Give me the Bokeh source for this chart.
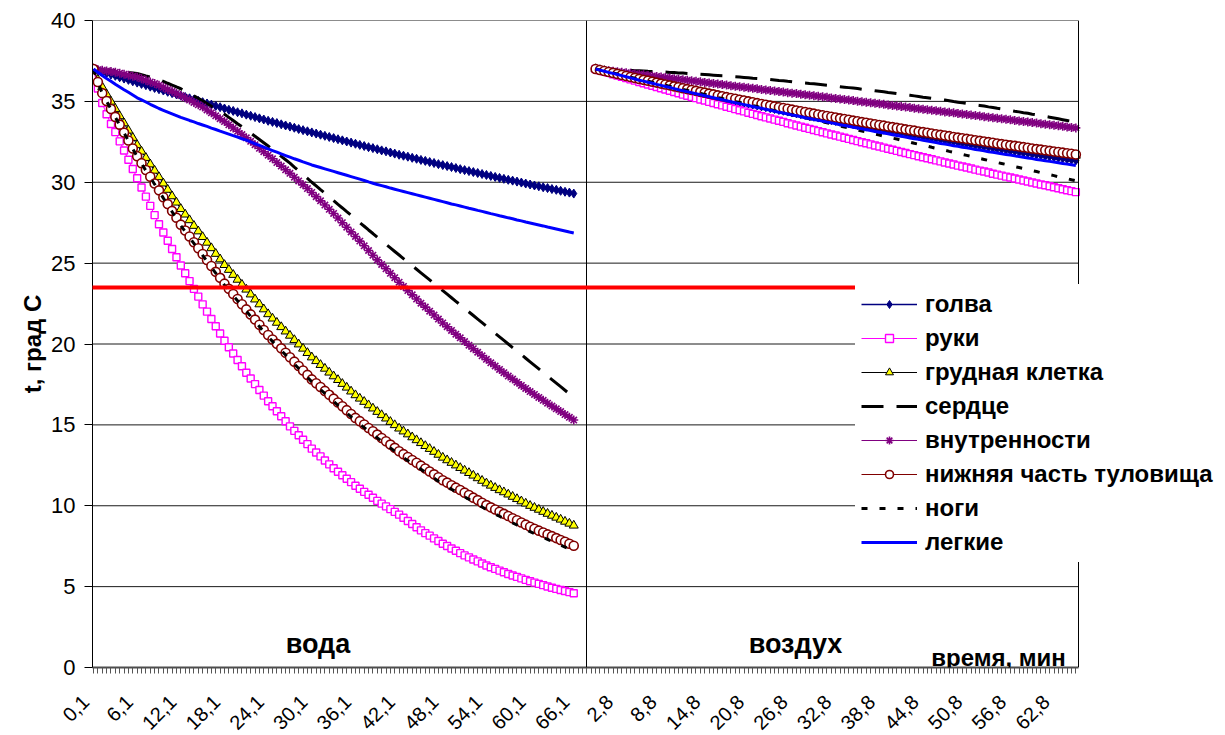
import math
from bokeh.plotting import figure
from bokeh.layouts import column
from bokeh.models import (Range1d, FixedTicker, Span, Label, Legend, LegendItem,
                          Arrow, ColumnDataSource)
from bokeh.core.properties import value
from bokeh.embed import file_html
from bokeh.resources import INLINE

FONT = "Liberation Sans"

# ---- categories (time, min) ----
WATER_TICK_LABELS = ["0,1", "6,1", "12,1", "18,1", "24,1", "30,1", "36,1",
                     "42,1", "48,1", "54,1", "60,1", "66,1"]
AIR_TICK_LABELS = ["2,8", "8,8", "14,8", "20,8", "26,8", "32,8", "38,8",
                   "44,8", "50,8", "56,8", "62,8"]
N_POINTS = 111          # categories per panel
AIR_START = 115         # category slot where the air panel starts
LABEL_EVERY = 10
SEPARATOR = 112.92
X_LEFT, X_RIGHT = -0.229, 225.61      # plot-area extent in category units
Y_TICKS = [0, 5, 10, 15, 20, 25, 30, 35, 40]

SERIES_NAMES = ["голва", "руки", "грудная клетка", "сердце", "внутренности",
                "нижняя часть туловища", "ноги", "легкие"]

# ---- water (вода) ----
head_water = [37.00, 36.92, 36.83, 36.75, 36.66, 36.58, 36.49, 36.41, 36.33, 36.24, 36.16,
              36.08, 36.00, 35.91, 35.83, 35.75, 35.67, 35.59, 35.51, 35.43, 35.35,
              35.27, 35.19, 35.11, 35.03, 34.95, 34.87, 34.80, 34.72, 34.64, 34.56,
              34.48, 34.41, 34.33, 34.26, 34.18, 34.11, 34.03, 33.95, 33.88, 33.80,
              33.73, 33.66, 33.58, 33.51, 33.44, 33.37, 33.29, 33.22, 33.15, 33.08,
              33.01, 32.94, 32.87, 32.80, 32.73, 32.66, 32.59, 32.52, 32.45, 32.38,
              32.31, 32.24, 32.17, 32.11, 32.04, 31.97, 31.91, 31.84, 31.77, 31.70,
              31.64, 31.58, 31.51, 31.45, 31.38, 31.32, 31.25, 31.19, 31.12, 31.06,
              31.00, 30.94, 30.88, 30.81, 30.75, 30.69, 30.63, 30.57, 30.51, 30.45,
              30.39, 30.33, 30.27, 30.21, 30.15, 30.10, 30.04, 29.98, 29.92, 29.86,
              29.80, 29.75, 29.69, 29.64, 29.58, 29.53, 29.47, 29.41, 29.36, 29.30]
hands_water = [37.00, 35.80, 34.90, 34.20, 33.60, 33.10, 32.53, 31.96, 31.39, 30.82, 30.25,
               29.68, 29.11, 28.54, 27.97, 27.40, 26.89, 26.38, 25.87, 25.36, 24.85,
               24.37, 23.89, 23.41, 22.93, 22.45, 22.00, 21.55, 21.10, 20.65, 20.20,
               19.80, 19.41, 19.01, 18.62, 18.22, 17.87, 17.52, 17.16, 16.81, 16.46,
               16.15, 15.84, 15.53, 15.22, 14.91, 14.63, 14.36, 14.08, 13.81, 13.53,
               13.29, 13.05, 12.80, 12.56, 12.32, 12.10, 11.89, 11.67, 11.46, 11.24,
               11.05, 10.86, 10.68, 10.49, 10.30, 10.13, 9.96, 9.79, 9.62, 9.45,
               9.26, 9.06, 8.87, 8.67, 8.48, 8.31, 8.15, 7.98, 7.82, 7.65,
               7.51, 7.36, 7.22, 7.07, 6.93, 6.81, 6.68, 6.56, 6.43, 6.31,
               6.20, 6.10, 5.99, 5.89, 5.78, 5.69, 5.60, 5.51, 5.42, 5.33,
               5.25, 5.17, 5.09, 5.01, 4.93, 4.86, 4.79, 4.73, 4.66, 4.59]
chest_water = [37.00, 36.34, 35.89, 35.44, 34.99, 34.54, 34.09, 33.65, 33.20, 32.75, 32.30,
               31.90, 31.51, 31.11, 30.72, 30.32, 29.93, 29.54, 29.14, 28.75, 28.35,
               28.01, 27.66, 27.31, 26.97, 26.62, 26.27, 25.93, 25.58, 25.24, 24.89,
               24.59, 24.28, 23.98, 23.67, 23.37, 23.07, 22.76, 22.46, 22.15, 21.85,
               21.58, 21.32, 21.05, 20.78, 20.52, 20.25, 19.98, 19.72, 19.45, 19.18,
               18.95, 18.71, 18.48, 18.24, 18.01, 17.78, 17.54, 17.31, 17.07, 16.84,
               16.63, 16.43, 16.22, 16.02, 15.81, 15.61, 15.40, 15.19, 14.99, 14.78,
               14.60, 14.42, 14.24, 14.06, 13.88, 13.70, 13.52, 13.34, 13.16, 12.98,
               12.82, 12.66, 12.50, 12.34, 12.18, 12.03, 11.87, 11.71, 11.55, 11.39,
               11.25, 11.11, 10.97, 10.84, 10.70, 10.56, 10.42, 10.28, 10.14, 10.00,
               9.88, 9.76, 9.63, 9.51, 9.39, 9.27, 9.15, 9.02, 8.90, 8.78]
heart_water = [37.00, 36.98, 36.96, 36.94, 36.92, 36.90, 36.86, 36.83, 36.79, 36.76, 36.72,
               36.65, 36.57, 36.50, 36.42, 36.35, 36.24, 36.12, 36.01, 35.89, 35.78,
               35.63, 35.48, 35.34, 35.19, 35.04, 34.87, 34.70, 34.54, 34.37, 34.20,
               34.01, 33.82, 33.62, 33.43, 33.24, 33.04, 32.84, 32.64, 32.44, 32.24,
               32.03, 31.82, 31.60, 31.39, 31.18, 30.94, 30.71, 30.47, 30.24, 30.00,
               29.77, 29.54, 29.32, 29.09, 28.86, 28.63, 28.41, 28.18, 27.96, 27.73,
               27.50, 27.28, 27.05, 26.83, 26.60, 26.38, 26.16, 25.94, 25.72, 25.50,
               25.28, 25.06, 24.84, 24.62, 24.40, 24.18, 23.96, 23.74, 23.52, 23.30,
               23.08, 22.86, 22.64, 22.42, 22.20, 21.98, 21.76, 21.54, 21.32, 21.10,
               20.88, 20.66, 20.44, 20.22, 20.00, 19.78, 19.56, 19.34, 19.12, 18.90,
               18.68, 18.46, 18.24, 18.02, 17.80, 17.58, 17.36, 17.14, 16.92, 16.70]
viscera_water = [37.00, 36.96, 36.92, 36.88, 36.84, 36.80, 36.74, 36.68, 36.62, 36.56, 36.50,
                 36.40, 36.30, 36.20, 36.10, 36.00, 35.87, 35.74, 35.62, 35.49, 35.36,
                 35.22, 35.08, 34.93, 34.79, 34.65, 34.47, 34.29, 34.11, 33.93, 33.75,
                 33.55, 33.35, 33.15, 32.95, 32.75, 32.53, 32.32, 32.10, 31.89, 31.67,
                 31.45, 31.22, 31.00, 30.77, 30.55, 30.31, 30.08, 29.84, 29.61, 29.37,
                 29.11, 28.85, 28.59, 28.33, 28.07, 27.79, 27.50, 27.22, 26.93, 26.65,
                 26.36, 26.07, 25.78, 25.49, 25.20, 24.92, 24.65, 24.37, 24.10, 23.82,
                 23.56, 23.30, 23.04, 22.78, 22.52, 22.28, 22.03, 21.79, 21.54, 21.30,
                 21.07, 20.84, 20.61, 20.38, 20.15, 19.93, 19.71, 19.49, 19.27, 19.05,
                 18.84, 18.64, 18.43, 18.23, 18.02, 17.83, 17.64, 17.44, 17.25, 17.06,
                 16.88, 16.70, 16.52, 16.34, 16.16, 15.99, 15.82, 15.64, 15.47, 15.30]
torso_water = [37.00, 36.20, 35.51, 35.02, 34.53, 34.04, 33.56, 33.07, 32.58, 32.09, 31.61,
               31.18, 30.76, 30.34, 29.92, 29.50, 29.07, 28.65, 28.23, 27.81, 27.38,
               27.02, 26.65, 26.29, 25.92, 25.56, 25.19, 24.82, 24.46, 24.09, 23.73,
               23.41, 23.09, 22.78, 22.46, 22.14, 21.83, 21.51, 21.19, 20.87, 20.56,
               20.28, 20.01, 19.73, 19.46, 19.18, 18.91, 18.64, 18.36, 18.09, 17.81,
               17.57, 17.34, 17.10, 16.86, 16.62, 16.38, 16.15, 15.91, 15.67, 15.43,
               15.23, 15.02, 14.81, 14.61, 14.40, 14.19, 13.99, 13.78, 13.58, 13.37,
               13.19, 13.01, 12.83, 12.66, 12.48, 12.30, 12.12, 11.94, 11.76, 11.58,
               11.43, 11.27, 11.12, 10.97, 10.81, 10.66, 10.50, 10.35, 10.19, 10.04,
               9.90, 9.77, 9.63, 9.50, 9.37, 9.23, 9.10, 8.96, 8.83, 8.70,
               8.58, 8.46, 8.35, 8.23, 8.12, 8.00, 7.88, 7.77, 7.65, 7.53]
legs_water = [37.00, 36.20, 35.50, 35.01, 34.52, 34.02, 33.54, 33.05, 32.56, 32.06, 31.58,
              31.15, 30.72, 30.30, 29.88, 29.45, 29.02, 28.60, 28.18, 27.75, 27.32,
              26.96, 26.58, 26.22, 25.85, 25.48, 25.11, 24.74, 24.38, 24.00, 23.64,
              23.32, 22.99, 22.67, 22.36, 22.04, 21.71, 21.40, 21.08, 20.75, 20.44,
              20.16, 19.88, 19.60, 19.33, 19.05, 18.77, 18.49, 18.22, 17.94, 17.66,
              17.42, 17.18, 16.94, 16.70, 16.46, 16.21, 15.98, 15.74, 15.49, 15.25,
              15.04, 14.83, 14.62, 14.42, 14.20, 13.99, 13.79, 13.58, 13.37, 13.16,
              12.98, 12.79, 12.61, 12.44, 12.26, 12.07, 11.89, 11.71, 11.52, 11.34,
              11.19, 11.02, 10.87, 10.71, 10.55, 10.40, 10.24, 10.09, 9.92, 9.77,
              9.63, 9.49, 9.35, 9.22, 9.08, 8.94, 8.81, 8.67, 8.53, 8.40,
              8.28, 8.16, 8.04, 7.92, 7.80, 7.68, 7.56, 7.44, 7.32, 7.20]
lungs_water = [37.00, 36.80, 36.60, 36.42, 36.25, 36.06, 35.89, 35.72, 35.56, 35.39, 35.22,
               35.09, 34.96, 34.82, 34.69, 34.56, 34.45, 34.34, 34.23, 34.12, 34.01,
               33.92, 33.82, 33.73, 33.63, 33.54, 33.45, 33.35, 33.26, 33.16, 33.07,
               32.98, 32.88, 32.79, 32.69, 32.60, 32.49, 32.38, 32.28, 32.17, 32.06,
               31.96, 31.86, 31.75, 31.65, 31.55, 31.45, 31.36, 31.26, 31.17, 31.07,
               30.99, 30.91, 30.83, 30.75, 30.67, 30.59, 30.51, 30.43, 30.35, 30.27,
               30.19, 30.11, 30.02, 29.94, 29.86, 29.79, 29.72, 29.64, 29.57, 29.50,
               29.43, 29.36, 29.29, 29.22, 29.15, 29.08, 29.01, 28.94, 28.87, 28.80,
               28.73, 28.66, 28.60, 28.53, 28.46, 28.39, 28.33, 28.26, 28.20, 28.13,
               28.06, 28.00, 27.93, 27.87, 27.80, 27.74, 27.67, 27.61, 27.54, 27.48,
               27.42, 27.36, 27.30, 27.23, 27.17, 27.11, 27.05, 26.99, 26.92, 26.86]

# ---- air (воздух) ----
head_air = [37.00, 36.93, 36.87, 36.80, 36.74, 36.67, 36.61, 36.54, 36.48, 36.41, 36.35,
            36.29, 36.23, 36.16, 36.10, 36.04, 35.98, 35.92, 35.85, 35.79, 35.73,
            35.67, 35.61, 35.55, 35.49, 35.44, 35.38, 35.32, 35.26, 35.20, 35.14,
            35.08, 35.03, 34.97, 34.92, 34.86, 34.80, 34.75, 34.69, 34.64, 34.58,
            34.53, 34.47, 34.42, 34.37, 34.31, 34.26, 34.21, 34.15, 34.10, 34.05,
            34.00, 33.95, 33.90, 33.84, 33.79, 33.74, 33.69, 33.64, 33.59, 33.54,
            33.49, 33.44, 33.40, 33.35, 33.30, 33.25, 33.20, 33.15, 33.11, 33.06,
            33.01, 32.97, 32.92, 32.87, 32.83, 32.78, 32.74, 32.69, 32.65, 32.60,
            32.56, 32.51, 32.47, 32.42, 32.38, 32.34, 32.29, 32.25, 32.21, 32.16,
            32.12, 32.08, 32.04, 32.00, 31.95, 31.91, 31.87, 31.83, 31.79, 31.75,
            31.71, 31.67, 31.63, 31.59, 31.55, 31.51, 31.47, 31.43, 31.39, 31.35]
hands_air = [37.00, 36.92, 36.84, 36.76, 36.68, 36.60, 36.52, 36.44, 36.36, 36.28, 36.20,
             36.12, 36.04, 35.97, 35.89, 35.81, 35.73, 35.66, 35.58, 35.50, 35.42,
             35.35, 35.27, 35.20, 35.12, 35.05, 34.97, 34.90, 34.82, 34.75, 34.67,
             34.60, 34.52, 34.45, 34.38, 34.30, 34.23, 34.16, 34.08, 34.01, 33.94,
             33.87, 33.80, 33.73, 33.65, 33.58, 33.51, 33.44, 33.37, 33.30, 33.23,
             33.16, 33.09, 33.02, 32.95, 32.89, 32.82, 32.75, 32.68, 32.61, 32.54,
             32.47, 32.41, 32.34, 32.27, 32.21, 32.14, 32.07, 32.01, 31.94, 31.87,
             31.81, 31.74, 31.68, 31.61, 31.55, 31.48, 31.42, 31.35, 31.29, 31.22,
             31.16, 31.10, 31.03, 30.97, 30.91, 30.85, 30.78, 30.72, 30.66, 30.60,
             30.53, 30.47, 30.41, 30.35, 30.29, 30.23, 30.17, 30.11, 30.05, 29.98,
             29.92, 29.86, 29.81, 29.75, 29.69, 29.63, 29.57, 29.51, 29.45, 29.39]
chest_air = [37.00, 36.94, 36.88, 36.81, 36.75, 36.69, 36.63, 36.57, 36.51, 36.44, 36.38,
             36.32, 36.27, 36.21, 36.15, 36.09, 36.03, 35.97, 35.91, 35.85, 35.80,
             35.74, 35.68, 35.63, 35.57, 35.52, 35.46, 35.41, 35.35, 35.29, 35.24,
             35.18, 35.13, 35.08, 35.03, 34.97, 34.92, 34.87, 34.81, 34.76, 34.71,
             34.66, 34.61, 34.56, 34.51, 34.45, 34.40, 34.35, 34.30, 34.25, 34.20,
             34.15, 34.11, 34.06, 34.01, 33.96, 33.91, 33.87, 33.82, 33.77, 33.72,
             33.68, 33.63, 33.58, 33.54, 33.49, 33.45, 33.40, 33.36, 33.31, 33.26,
             33.22, 33.18, 33.13, 33.09, 33.05, 33.00, 32.96, 32.92, 32.87, 32.83,
             32.79, 32.75, 32.71, 32.66, 32.62, 32.58, 32.54, 32.50, 32.46, 32.42,
             32.38, 32.34, 32.30, 32.26, 32.22, 32.18, 32.14, 32.10, 32.06, 32.02,
             31.99, 31.95, 31.91, 31.87, 31.84, 31.80, 31.76, 31.72, 31.69, 31.65]
heart_air = [37.00, 36.99, 36.98, 36.97, 36.96, 36.95, 36.94, 36.93, 36.92, 36.90, 36.89,
             36.88, 36.86, 36.85, 36.84, 36.82, 36.81, 36.79, 36.78, 36.76, 36.75,
             36.73, 36.71, 36.69, 36.68, 36.66, 36.64, 36.62, 36.60, 36.58, 36.57,
             36.54, 36.52, 36.50, 36.48, 36.46, 36.43, 36.41, 36.39, 36.37, 36.35,
             36.32, 36.29, 36.27, 36.24, 36.22, 36.19, 36.16, 36.14, 36.11, 36.09,
             36.06, 36.03, 36.00, 35.97, 35.94, 35.91, 35.88, 35.85, 35.82, 35.79,
             35.75, 35.72, 35.69, 35.65, 35.62, 35.59, 35.55, 35.52, 35.48, 35.45,
             35.41, 35.38, 35.34, 35.30, 35.26, 35.23, 35.19, 35.15, 35.11, 35.08,
             35.04, 34.99, 34.95, 34.91, 34.87, 34.83, 34.79, 34.75, 34.71, 34.66,
             34.62, 34.57, 34.53, 34.48, 34.44, 34.39, 34.35, 34.30, 34.26, 34.21,
             34.17, 34.12, 34.07, 34.02, 33.97, 33.92, 33.87, 33.82, 33.77, 33.72]
viscera_air = [37.00, 36.97, 36.93, 36.90, 36.87, 36.83, 36.80, 36.77, 36.74, 36.70, 36.67,
               36.64, 36.60, 36.57, 36.54, 36.50, 36.47, 36.44, 36.40, 36.37, 36.34,
               36.30, 36.27, 36.24, 36.21, 36.17, 36.14, 36.11, 36.07, 36.04, 36.01,
               35.97, 35.94, 35.91, 35.87, 35.84, 35.81, 35.78, 35.74, 35.71, 35.68,
               35.64, 35.61, 35.58, 35.54, 35.51, 35.48, 35.44, 35.41, 35.38, 35.35,
               35.31, 35.28, 35.25, 35.21, 35.18, 35.15, 35.11, 35.08, 35.05, 35.01,
               34.98, 34.95, 34.91, 34.88, 34.85, 34.82, 34.78, 34.75, 34.72, 34.68,
               34.65, 34.62, 34.58, 34.55, 34.52, 34.48, 34.45, 34.42, 34.39, 34.35,
               34.32, 34.29, 34.25, 34.22, 34.19, 34.15, 34.12, 34.09, 34.05, 34.02,
               33.99, 33.95, 33.92, 33.89, 33.86, 33.82, 33.79, 33.76, 33.72, 33.69,
               33.66, 33.62, 33.59, 33.56, 33.52, 33.49, 33.46, 33.42, 33.39, 33.36]
torso_air = [37.00, 36.94, 36.88, 36.82, 36.76, 36.70, 36.63, 36.57, 36.51, 36.45, 36.39,
             36.33, 36.28, 36.22, 36.16, 36.10, 36.04, 35.99, 35.93, 35.87, 35.81,
             35.76, 35.70, 35.65, 35.59, 35.54, 35.48, 35.43, 35.37, 35.32, 35.26,
             35.21, 35.16, 35.10, 35.05, 35.00, 34.95, 34.89, 34.84, 34.79, 34.74,
             34.69, 34.64, 34.59, 34.54, 34.49, 34.44, 34.39, 34.34, 34.29, 34.24,
             34.19, 34.14, 34.10, 34.05, 34.00, 33.95, 33.91, 33.86, 33.81, 33.77,
             33.72, 33.68, 33.63, 33.59, 33.54, 33.50, 33.45, 33.41, 33.36, 33.32,
             33.27, 33.23, 33.19, 33.14, 33.10, 33.06, 33.01, 32.97, 32.93, 32.89,
             32.85, 32.80, 32.76, 32.72, 32.68, 32.64, 32.60, 32.56, 32.52, 32.48,
             32.44, 32.40, 32.36, 32.32, 32.28, 32.25, 32.21, 32.17, 32.13, 32.09,
             32.05, 32.02, 31.98, 31.94, 31.90, 31.87, 31.83, 31.79, 31.76, 31.72]
legs_air = [37.00, 36.94, 36.87, 36.81, 36.75, 36.69, 36.62, 36.56, 36.50, 36.43, 36.37,
            36.31, 36.25, 36.18, 36.12, 36.06, 36.00, 35.93, 35.87, 35.81, 35.74,
            35.68, 35.62, 35.56, 35.49, 35.43, 35.37, 35.30, 35.24, 35.18, 35.12,
            35.05, 34.99, 34.93, 34.86, 34.80, 34.74, 34.68, 34.61, 34.55, 34.49,
            34.42, 34.36, 34.30, 34.24, 34.17, 34.11, 34.05, 33.98, 33.92, 33.86,
            33.80, 33.73, 33.67, 33.61, 33.55, 33.48, 33.42, 33.36, 33.29, 33.23,
            33.17, 33.11, 33.04, 32.98, 32.92, 32.85, 32.79, 32.73, 32.67, 32.60,
            32.54, 32.48, 32.41, 32.35, 32.29, 32.23, 32.16, 32.10, 32.04, 31.98,
            31.91, 31.85, 31.79, 31.72, 31.66, 31.60, 31.54, 31.47, 31.41, 31.35,
            31.29, 31.22, 31.16, 31.10, 31.03, 30.97, 30.91, 30.85, 30.78, 30.72,
            30.66, 30.59, 30.53, 30.47, 30.41, 30.34, 30.28, 30.22, 30.15, 30.09]
lungs_air = [37.00, 36.93, 36.86, 36.79, 36.73, 36.66, 36.59, 36.52, 36.45, 36.38, 36.31,
             36.25, 36.18, 36.12, 36.05, 35.99, 35.92, 35.86, 35.79, 35.72, 35.66,
             35.60, 35.53, 35.47, 35.41, 35.35, 35.29, 35.22, 35.16, 35.10, 35.04,
             34.98, 34.92, 34.86, 34.80, 34.74, 34.68, 34.62, 34.57, 34.51, 34.45,
             34.39, 34.33, 34.28, 34.22, 34.16, 34.11, 34.05, 33.99, 33.94, 33.88,
             33.83, 33.78, 33.72, 33.67, 33.62, 33.56, 33.51, 33.46, 33.40, 33.35,
             33.30, 33.25, 33.20, 33.14, 33.09, 33.04, 32.99, 32.94, 32.89, 32.84,
             32.79, 32.74, 32.69, 32.65, 32.60, 32.55, 32.50, 32.45, 32.40, 32.36,
             32.31, 32.26, 32.22, 32.17, 32.13, 32.08, 32.03, 31.99, 31.94, 31.89,
             31.85, 31.81, 31.76, 31.72, 31.68, 31.63, 31.59, 31.54, 31.50, 31.46,
             31.41, 31.37, 31.33, 31.29, 31.25, 31.21, 31.16, 31.12, 31.08, 31.04]

# ---------------------------------------------------------------------------
water_x = list(range(N_POINTS))
air_x = list(range(AIR_START, AIR_START + N_POINTS))
NAN = float("nan")
PX_PER_CAT = 986 / (X_RIGHT - X_LEFT)
FRAME_RIGHT = X_LEFT + (1225 - 92) / PX_PER_CAT   # frame reaches the canvas edge

MAIN_H = 681          # chart part (frame bottom at 667, room for ticks and the "0" label)
LABEL_H = 735 - MAIN_H
LABEL_ANCHOR_PAGE_Y = 698


def make_source(water, air):
    return ColumnDataSource(data=dict(x=water_x + [NAN] + air_x,
                                      y=list(water) + [NAN] + list(air)))


p = figure(width=1225, height=MAIN_H, output_backend="svg", toolbar_location=None,
           x_range=Range1d(X_LEFT, FRAME_RIGHT), y_range=Range1d(0, 40),
           min_border_left=92, min_border_right=0, min_border_top=20,
           min_border_bottom=MAIN_H - 667)
p.frame_align = False
p.background_fill_color = "white"
p.border_fill_color = "white"
p.outline_line_color = None
p.xgrid.visible = False
p.ygrid.visible = False

# horizontal gridlines limited to the plot area
grid_y = Y_TICKS[1:]
p.segment(x0=[X_LEFT] * len(grid_y), x1=[X_RIGHT] * len(grid_y), y0=grid_y, y1=grid_y,
          line_color="#1a1a1a", line_width=1)

p.yaxis.ticker = FixedTicker(ticks=Y_TICKS)
p.yaxis.major_label_text_font = FONT
p.yaxis.major_label_text_font_size = "22px"
p.yaxis.major_label_text_color = "black"
p.yaxis.major_tick_out = 8
p.yaxis.major_tick_in = 0
p.yaxis.minor_tick_out = 0
p.yaxis.minor_tick_in = 0
p.yaxis.major_label_standoff = 9
p.yaxis.axis_line_color = "black"
p.yaxis.major_tick_line_color = "black"
p.yaxis.axis_label = "t, град С"
p.yaxis.axis_label_text_font = FONT
p.yaxis.axis_label_text_font_size = "24px"
p.yaxis.axis_label_text_font_style = "bold"
p.yaxis.axis_label_text_color = "black"
p.yaxis.axis_label_standoff = 2

tick_pos = [i * LABEL_EVERY for i in range(len(WATER_TICK_LABELS))] + \
           [AIR_START + 5 + i * LABEL_EVERY for i in range(len(AIR_TICK_LABELS))]
tick_txt = WATER_TICK_LABELS + AIR_TICK_LABELS
p.xaxis.ticker = FixedTicker(ticks=[], minor_ticks=list(range(0, 226)))
p.xaxis.major_label_text_font_size = "0px"
p.xaxis.major_label_standoff = 0
p.xaxis.bounds = (X_LEFT, X_RIGHT)
p.xaxis.axis_line_color = "#4d4d4d"
p.xaxis.axis_line_width = 2
p.xaxis.minor_tick_out = 6
p.xaxis.minor_tick_in = 0
p.xaxis.minor_tick_line_color = "#555555"
p.xaxis.major_tick_out = 0
p.xaxis.major_tick_in = 0

# panel separator and right border of plot area
p.add_layout(Span(location=SEPARATOR, dimension="height", line_color="black", line_width=1))
p.add_layout(Span(location=X_RIGHT, dimension="height", line_color="black", line_width=1))

renderers = []
# голва
s = make_source(head_water, head_air)
l1 = p.line("x", "y", source=s, line_color="#000080", line_width=1.5)
m1 = p.scatter("x", "y", source=s, marker="diamond", size=9, fill_color="#000080",
               line_color="#000080")
renderers.append([l1, m1])
# руки
s = make_source(hands_water, hands_air)
l2 = p.line("x", "y", source=s, line_color="#FF00FF", line_width=1)
m2 = p.scatter("x", "y", source=s, marker="square", size=7, fill_color="white",
               line_color="#FF00FF", line_width=1.4)
renderers.append([l2, m2])
# грудная клетка
s = make_source(chest_water, chest_air)
l3 = p.line("x", "y", source=s, line_color="black", line_width=1)
m3 = p.scatter("x", "y", source=s, marker="triangle", size=9, fill_color="#FFFF00",
               line_color="black", line_width=1)
renderers.append([l3, m3])
# сердце
s = make_source(heart_water, heart_air)
l4 = p.line("x", "y", source=s, line_color="black", line_width=3, line_dash="22 13")
renderers.append([l4])
# внутренности
s = make_source(viscera_water, viscera_air)
l5 = p.line("x", "y", source=s, line_color="#800080", line_width=1)
m5 = p.scatter("x", "y", source=s, marker="asterisk", size=9, line_color="#800080",
               line_width=1.6)
renderers.append([l5, m5])
# нижняя часть туловища
s = make_source(torso_water, torso_air)
l6 = p.line("x", "y", source=s, line_color="#800000", line_width=1)
m6 = p.scatter("x", "y", source=s, marker="circle", size=9, fill_color="white",
               line_color="#800000", line_width=1.6)
renderers.append([l6, m6])
# ноги
s = make_source(legs_water, legs_air)
l7 = p.line("x", "y", source=s, line_color="black", line_width=3, line_dash="6 12")
renderers.append([l7])
# легкие
s = make_source(lungs_water, lungs_air)
l8 = p.line("x", "y", source=s, line_color="#0000FF", line_width=3)
renderers.append([l8])

# red threshold line (drawn shape, runs past the plot area)
p.add_layout(Arrow(end=None, x_start=-12.1, y_start=23.5, x_end=231.8, y_end=23.5,
                   line_color="#FF0000", line_width=4))

# panel captions
p.add_layout(Label(x=51.4, y=1.48, text="вода", text_align="center",
                   text_baseline="alphabetic", text_font=FONT, text_font_size="27px",
                   text_font_style="bold", text_color="black"))
p.add_layout(Label(x=160.8, y=1.48, text="воздух", text_align="center",
                   text_baseline="alphabetic", text_font=FONT, text_font_size="27px",
                   text_font_style="bold", text_color="black"))
p.add_layout(Label(x=207.3, y=0.6, text="время, мин", text_align="center",
                   text_baseline="alphabetic", text_font=FONT, text_font_size="24px",
                   text_font_style="bold", text_color="black"))

legend = Legend(items=[LegendItem(label=n, renderers=r) for n, r in zip(SERIES_NAMES, renderers)],
                location=(763, 105), orientation="vertical",
                label_text_font=FONT, label_text_font_size="24px",
                label_text_font_style="bold", label_text_color="black",
                glyph_width=56, glyph_height=20, label_height=20, label_standoff=8,
                spacing=6, padding=6, margin=0,
                background_fill_color="white", background_fill_alpha=1.0,
                border_line_alpha=0)
p.add_layout(legend)

# ---- category labels strip under the axis (same category scale) ----
LABEL_SHIFT = -1.79     # rotated label ends a little left of its tick, as in Excel
strip = figure(width=1225, height=LABEL_H, output_backend="svg", toolbar_location=None,
               x_range=Range1d(X_LEFT - 92 / PX_PER_CAT, FRAME_RIGHT),
               y_range=Range1d(0, LABEL_H),
               min_border_left=0, min_border_right=0, min_border_top=0,
               min_border_bottom=0)
strip.frame_align = False
strip.xaxis.visible = False
strip.yaxis.visible = False
strip.xgrid.visible = False
strip.ygrid.visible = False
strip.outline_line_color = None
strip.background_fill_color = "white"
strip.border_fill_color = "white"
strip.text(x=[t + LABEL_SHIFT for t in tick_pos],
           y=[LABEL_H - (LABEL_ANCHOR_PAGE_Y - MAIN_H)] * len(tick_pos),
           text=tick_txt, angle=math.pi / 4, text_align="right", text_baseline="middle",
           text_font=value(FONT), text_font_size="20px", text_color="black")

layout = column(p, strip, spacing=0)
open("out.html", "w").write(file_html(layout, INLINE))
